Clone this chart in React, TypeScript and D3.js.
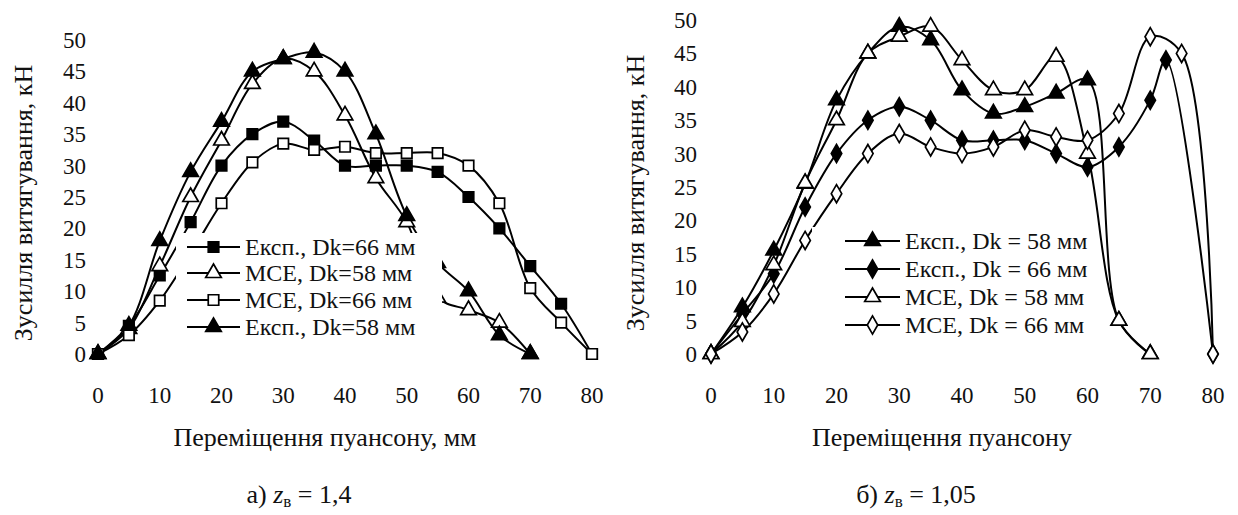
import React, { useEffect, useRef } from 'react';
import * as d3 from 'd3';

// Two smoothed force-vs-travel charts side by side (z_в = 1,4 and 1,05).

const W = 1238;
const H = 515;
const FONT = '"Liberation Serif", "Times New Roman", serif';

const xTicks = [0, 10, 20, 30, 40, 50, 60, 70, 80];
const yTicks = [0, 5, 10, 15, 20, 25, 30, 35, 40, 45, 50];

// --- panel а) z_в = 1,4
const leftX17 = [0, 5, 10, 15, 20, 25, 30, 35, 40, 45, 50, 55, 60, 65, 70, 75, 80];
const leftX15 = [0, 5, 10, 15, 20, 25, 30, 35, 40, 45, 50, 55, 60, 65, 70];
const leftExp66 = [0, 4.5, 12.5, 21, 30, 35, 37, 34, 30, 30, 30, 29, 25, 20, 14, 8, 0];
const leftMce58 = [0, 4, 14, 25, 34, 43, 47, 45, 38, 28, 21, 9, 7, 5, 0];
const leftMce66 = [0, 3, 8.5, 16, 24, 30.5, 33.5, 32.5, 33, 32, 32, 32, 30, 24, 10.5, 5, 0];
const leftExp58 = [0, 4.5, 18, 29, 37, 45, 47, 48, 45, 35, 22, 14.5, 10, 3, 0];

// --- panel б) z_в = 1,05
const rightX15 = [0, 5, 10, 15, 20, 25, 30, 35, 40, 45, 50, 55, 60, 65, 70];
const rightX17 = [0, 5, 10, 15, 20, 25, 30, 35, 40, 45, 50, 55, 60, 65, 70, 75, 80];
const rightXExp66 = [0, 5, 10, 15, 20, 25, 30, 35, 40, 45, 50, 55, 60, 65, 70, 72.5, 80];
const rightExp58 = [0, 7, 15.5, 25.5, 38, 45, 49, 47, 39.5, 36, 37, 39, 41, 5, 0];
const rightExp66 = [0, 6, 12, 22, 30, 35, 37, 35, 32, 32, 32, 30, 28, 31, 38, 44, 0];
const rightMce58 = [0, 4.8, 13.3, 25.6, 35, 45, 47.5, 49, 44, 39.5, 39.5, 44.5, 30, 5, 0];
const rightMce66 = [0, 3.3, 9, 17, 24, 30, 33, 31, 30, 31, 33.5, 32.5, 32, 36, 47.5, 45, 0];

type Marker = 'square' | 'triangle' | 'diamond';
type Series = { label: string; xs: number[]; ys: number[]; marker: Marker; filled: boolean };

const leftSeries: Series[] = [
  { label: 'Експ., Dk=66 мм', xs: leftX17, ys: leftExp66, marker: 'square', filled: true },
  { label: 'MCE, Dk=58 мм', xs: leftX15, ys: leftMce58, marker: 'triangle', filled: false },
  { label: 'MCE, Dk=66 мм', xs: leftX17, ys: leftMce66, marker: 'square', filled: false },
  { label: 'Експ., Dk=58 мм', xs: leftX15, ys: leftExp58, marker: 'triangle', filled: true },
];

const rightSeries: Series[] = [
  { label: 'Експ., Dk = 58 мм', xs: rightX15, ys: rightExp58, marker: 'triangle', filled: true },
  { label: 'Експ., Dk = 66 мм', xs: rightXExp66, ys: rightExp66, marker: 'diamond', filled: true },
  { label: 'MCE, Dk = 58 мм', xs: rightX15, ys: rightMce58, marker: 'triangle', filled: false },
  { label: 'MCE, Dk = 66 мм', xs: rightX17, ys: rightMce66, marker: 'diamond', filled: false },
];

const symbolFor = (m: Marker) =>
  m === 'square' ? d3.symbolSquare : m === 'triangle' ? d3.symbolTriangle : d3.symbolDiamond;
const sizeFor = (m: Marker) => (m === 'square' ? 110 : m === 'triangle' ? 105 : 95);

type PanelCfg = {
  series: Series[];
  xRange: [number, number];
  yRange: [number, number];
  yTickX: number;
  yTitleX: number;
  xTitle: string;
  captionPrefix: string;
  captionValue: string;
  legend: { x: number; y: number; w: number; h: number; rows: number[]; lineX: [number, number] };
};

const panels: PanelCfg[] = [
  {
    series: leftSeries,
    xRange: [98, 592],
    yRange: [354, 40],
    yTickX: 86,
    yTitleX: 23,
    xTitle: 'Переміщення пуансону, мм',
    captionPrefix: 'а) ',
    captionValue: ' = 1,4',
    legend: { x: 176, y: 233, w: 266, h: 112, rows: [247, 273, 300, 327], lineX: [187, 240] },
  },
  {
    series: rightSeries,
    xRange: [711, 1213],
    yRange: [354, 20],
    yTickX: 697,
    yTitleX: 635,
    xTitle: 'Переміщення пуансону',
    captionPrefix: 'б) ',
    captionValue: ' = 1,05',
    legend: { x: 812, y: 227, w: 283, h: 115, rows: [241, 269, 297, 325], lineX: [845, 900] },
  },
];

export default function App() {
  const svgRef = useRef<SVGSVGElement>(null);

  useEffect(() => {
    const svg = d3.select(svgRef.current);
    svg.selectAll('*').remove();
    svg.append('rect').attr('width', W).attr('height', H).attr('fill', 'white');

    panels.forEach((p) => {
      const g = svg.append('g').attr('font-family', FONT).attr('fill', '#111');
      const x = d3.scaleLinear().domain([0, 80]).range(p.xRange);
      const y = d3.scaleLinear().domain([0, 50]).range(p.yRange);

      // tick labels (no axis lines in the original)
      g.append('g')
        .selectAll('text')
        .data(xTicks)
        .enter()
        .append('text')
        .attr('x', (d) => x(d))
        .attr('y', 403)
        .attr('text-anchor', 'middle')
        .attr('font-size', '23px')
        .text((d) => d);
      g.append('g')
        .selectAll('text')
        .data(yTicks)
        .enter()
        .append('text')
        .attr('x', p.yTickX)
        .attr('y', (d) => y(d))
        .attr('dy', '0.35em')
        .attr('text-anchor', 'end')
        .attr('font-size', '23px')
        .text((d) => d);

      // lines, then markers
      const line = d3
        .line<[number, number]>()
        .x((d) => x(d[0]))
        .y((d) => y(d[1]))
        .curve(d3.curveCatmullRom.alpha(0.5));

      p.series.forEach((s) => {
        const pts = s.xs.map((v, i) => [v, s.ys[i]] as [number, number]);
        g.append('path')
          .datum(pts)
          .attr('fill', 'none')
          .attr('stroke', '#000')
          .attr('stroke-width', 2)
          .attr('d', line);
      });
      p.series.forEach((s) => {
        const pts = s.xs.map((v, i) => [v, s.ys[i]] as [number, number]);
        g.append('g')
          .selectAll('path')
          .data(pts)
          .enter()
          .append('path')
          .attr('transform', (d) => `translate(${x(d[0])},${y(d[1])})`)
          .attr('d', d3.symbol().type(symbolFor(s.marker)).size(sizeFor(s.marker))())
          .attr('fill', s.filled ? '#000' : '#fff')
          .attr('stroke', '#000')
          .attr('stroke-width', 1.7);
      });

      // legend with white box that hides lines behind it
      const lg = p.legend;
      g.append('rect')
        .attr('x', lg.x)
        .attr('y', lg.y)
        .attr('width', lg.w)
        .attr('height', lg.h)
        .attr('fill', '#fff');
      p.series.forEach((s, i) => {
        const ry = lg.rows[i];
        g.append('line')
          .attr('x1', lg.lineX[0])
          .attr('x2', lg.lineX[1])
          .attr('y1', ry)
          .attr('y2', ry)
          .attr('stroke', '#000')
          .attr('stroke-width', 2);
        g.append('path')
          .attr('transform', `translate(${(lg.lineX[0] + lg.lineX[1]) / 2},${ry})`)
          .attr('d', d3.symbol().type(symbolFor(s.marker)).size(sizeFor(s.marker))())
          .attr('fill', s.filled ? '#000' : '#fff')
          .attr('stroke', '#000')
          .attr('stroke-width', 1.7);
        g.append('text')
          .attr('x', lg.lineX[1] + 5)
          .attr('y', ry)
          .attr('dy', '0.35em')
          .attr('font-size', '24px')
          .text(s.label);
      });

      // axis titles
      const midY = (p.yRange[0] + p.yRange[1]) / 2 + 6;
      g.append('text')
        .attr('transform', `translate(${p.yTitleX},${midY}) rotate(-90)`)
        .attr('text-anchor', 'middle')
        .attr('dy', '0.35em')
        .attr('font-size', '26px')
        .text('Зусилля витягування, кН');
      const midX = (p.xRange[0] + p.xRange[1]) / 2;
      g.append('text')
        .attr('x', midX - 20)
        .attr('y', 446)
        .attr('text-anchor', 'middle')
        .attr('font-size', '26px')
        .text(p.xTitle);

      // caption: а) z_в = 1,4
      const cap = g
        .append('text')
        .attr('x', midX - 46)
        .attr('y', 503)
        .attr('text-anchor', 'middle')
        .attr('font-size', '26px');
      cap.append('tspan').text(p.captionPrefix);
      cap.append('tspan').attr('font-style', 'italic').text('z');
      cap.append('tspan').attr('font-size', '17px').attr('dy', 4).text('в');
      cap.append('tspan').attr('dy', -4).text(p.captionValue);
    });
  }, []);

  return (
    <svg
      ref={svgRef}
      width={W}
      height={H}
      style={{ position: 'absolute', left: 0, top: 0, display: 'block' }}
    />
  );
}
